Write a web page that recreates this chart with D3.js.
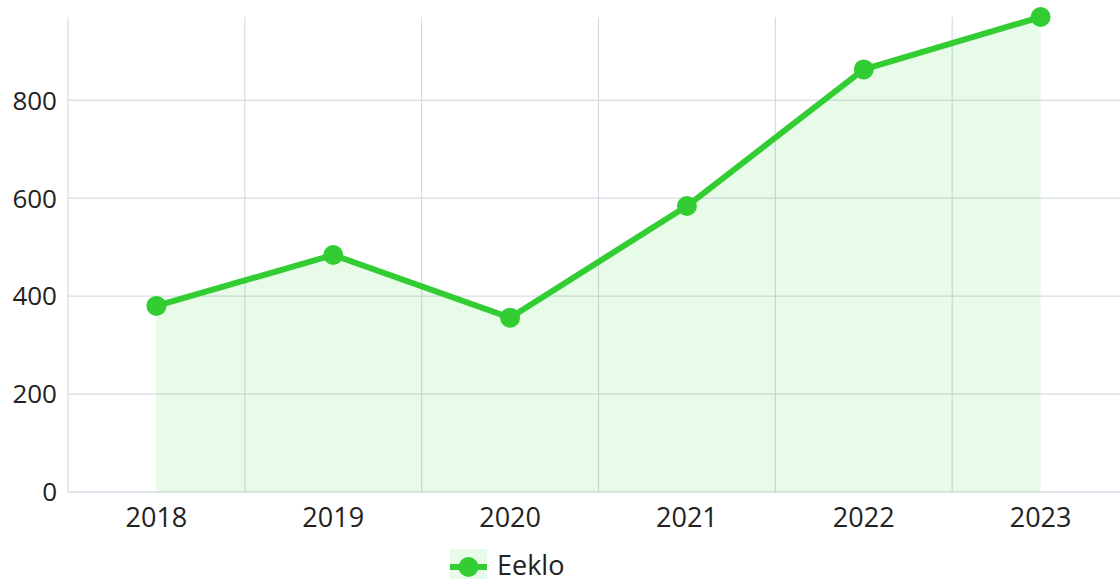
<!DOCTYPE html>
<html><head><meta charset="utf-8">
<script src="https://cdn.jsdelivr.net/npm/d3@7"></script>
<style>html,body{margin:0;padding:0;background:#fff;overflow:hidden}svg{display:block}text{font-family:"Open Sans","Noto Sans",sans-serif}</style>
</head><body><svg id="c" width="1120" height="579"></svg>
<script>
const categories = ["2018","2019","2020","2021","2022","2023"];
const values = [380, 484, 356, 584, 863, 970];
const yTicks = [0, 200, 400, 600, 800];
const seriesName = "Eeklo";

const svg = d3.select("#c");
const m = {l:68, r:1129, t:17, b:492};
const x = d3.scaleBand().domain(categories).range([m.l, m.r]);
const y = d3.scaleLinear().domain([0, d3.max(values)]).range([m.b, m.t]);
const cx = d => x(d) + x.bandwidth()/2;

// vertical grid
svg.append("g").selectAll("line").data(categories).join("line")
  .attr("x1", d=>x(d)).attr("x2", d=>x(d)).attr("y1", m.t).attr("y2", m.b)
  .attr("stroke", "#cfd5da").attr("stroke-width", 1);
// horizontal grid
svg.append("g").selectAll("line").data(yTicks).join("line")
  .attr("x1", m.l).attr("x2", m.r).attr("y1", d=>y(d)).attr("y2", d=>y(d))
  .attr("stroke", d=> d===0 ? "#d6dbe6" : "#ccd4de").attr("stroke-width", d=> d===0?1.5:1);

// area
const pts = categories.map((c,i)=>({c, v:values[i]}));
svg.append("path").datum(pts)
  .attr("d", d3.area().x(d=>cx(d.c)).y0(y(0)).y1(d=>y(d.v)))
  .attr("fill", "rgba(50,205,50,0.11)");
svg.append("path").datum(pts)
  .attr("d", d3.line().x(d=>cx(d.c)).y(d=>y(d.v)))
  .attr("fill", "none").attr("stroke", "#32cd32").attr("stroke-width", 6).attr("stroke-linejoin","round");
svg.append("g").selectAll("circle").data(pts).join("circle")
  .attr("cx", d=>cx(d.c)).attr("cy", d=>y(d.v)).attr("r", 10).attr("fill", "#32cd32");

// y labels
svg.append("g").selectAll("text").data(yTicks).join("text")
  .attr("x", 57).attr("y", d=>y(d)).attr("dy", "0.36em").attr("text-anchor","end")
  .attr("font-size", 26).attr("fill", "#222").text(d=>d);
// x labels
svg.append("g").selectAll("text").data(categories).join("text")
  .attr("x", d=>cx(d)).attr("y", 527).attr("text-anchor","middle")
  .attr("font-size", 27).attr("fill", "#222").text(d=>d);

// legend
const lg = svg.append("g");
lg.append("rect").attr("x", 450).attr("y", 549).attr("width", 37).attr("height", 30).attr("fill", "rgba(50,205,50,0.11)");
lg.append("line").attr("x1", 450).attr("x2", 487).attr("y1", 567).attr("y2", 567).attr("stroke", "#32cd32").attr("stroke-width", 6);
lg.append("circle").attr("cx", 468.5).attr("cy", 567).attr("r", 10).attr("fill", "#32cd32");
lg.append("text").attr("x", 497).attr("y", 575).attr("font-size", 27).attr("fill", "#222").text(seriesName);
</script></body></html>
